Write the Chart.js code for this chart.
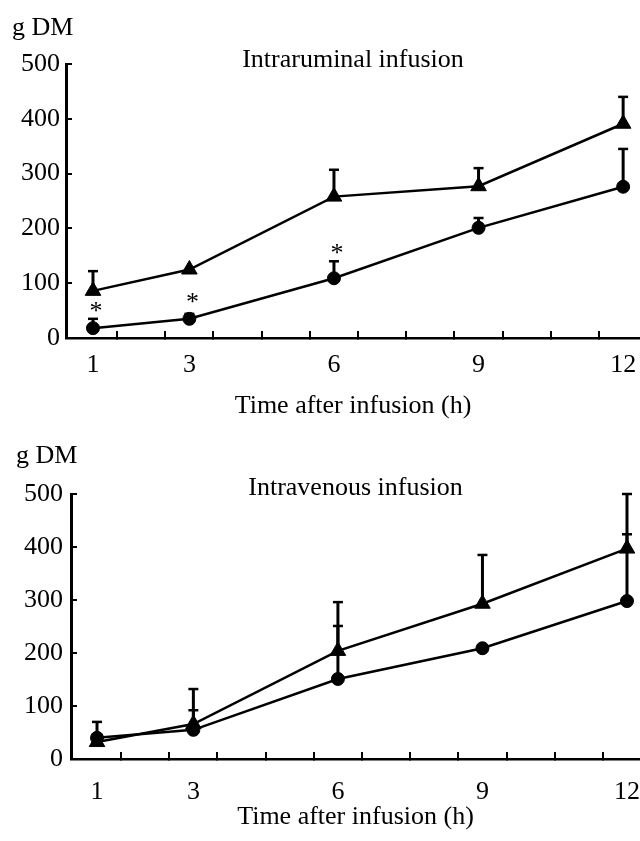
<!DOCTYPE html>
<html>
<head>
<meta charset="utf-8">
<script src="https://cdn.jsdelivr.net/npm/chart.js@4.4.1/dist/chart.umd.min.js"></script>
<style>
html,body{margin:0;padding:0;background:#fff;}
canvas{display:block;}
</style>
</head>
<body>
<canvas id="c1" width="640" height="430"></canvas>
<canvas id="c2" width="640" height="411"></canvas>
<script>
// ---- data ----
const hours = [1, 3, 6, 9, 12];
const xTickLabels = ['1', '3', '6', '9', '12'];
const minorTicks = [1.5, 2.5, 3.5, 4.5, 5.5, 6.5, 7.5, 8.5, 9.5, 10.5, 11.5];
const yTicks = [0, 100, 200, 300, 400, 500];

// Intraruminal infusion (value, upper end of error bar)
const ruminalTriangle = [86, 125, 258, 277, 391];
const ruminalTriangleUpper = [122, null, 307, 310, 440];
const ruminalCircle = [18, 35, 109, 201, 276];
const ruminalCircleUpper = [35, 44, 140, 219, 345];
const ruminalStarX = [1, 3, 6];
const ruminalStarY = [52, 69, 159];

// Intravenous infusion
const venousTriangle = [32, 66, 204, 293, 397];
const venousTriangleUpper = [70, 132, 296, 385, 500];
const venousCircle = [40, 55, 151, 209, 298];
const venousCircleUpper = [null, 92, 251, null, 424];

// ---- setup ----
const FONT = "'Liberation Serif', 'Times New Roman', serif";
Chart.defaults.font.family = FONT;
Chart.defaults.font.size = 26;
Chart.defaults.color = '#000';

const errorBarPlugin = {
  id: 'errorBars',
  afterDatasetsDraw(chart) {
    const {ctx, scales: {x, y}} = chart;
    ctx.save();
    ctx.strokeStyle = '#000';
    chart.data.datasets.forEach(ds => {
      if (!ds.upper) return;
      ds.data.forEach((pt, i) => {
        const up = ds.upper[i];
        if (up == null) return;
        const px = x.getPixelForValue(pt.x);
        const py = y.getPixelForValue(pt.y);
        const pu = y.getPixelForValue(up);
        ctx.lineWidth = 3;
        ctx.beginPath(); ctx.moveTo(px, py); ctx.lineTo(px, pu); ctx.stroke();
        ctx.lineWidth = 2.5;
        ctx.beginPath(); ctx.moveTo(px - 5, pu); ctx.lineTo(px + 5, pu); ctx.stroke();
      });
    });
    ctx.restore();
  }
};

function makeAsteriskPlugin(xs, ys) {
  return {
    id: 'asterisks',
    afterDatasetsDraw(chart) {
      const {ctx, scales: {x, y}} = chart;
      ctx.save();
      ctx.fillStyle = '#000';
      ctx.font = "26px " + FONT;
      ctx.textAlign = 'center';
      ctx.textBaseline = 'middle';
      xs.forEach((xv, i) => {
        ctx.fillText('*', x.getPixelForValue(xv) + 3, y.getPixelForValue(ys[i]) + 3);
      });
      ctx.restore();
    }
  };
}

function toPoints(vals) {
  return vals.map((v, i) => ({x: hours[i], y: v}));
}

function datasets(tri, triUp, circ, circUp) {
  return [
    {
      data: toPoints(tri), upper: triUp,
      borderColor: '#000', borderWidth: 2.5, fill: false, tension: 0,
      pointStyle: 'triangle', pointRadius: 9, pointBackgroundColor: '#000',
      pointBorderColor: '#000', pointBorderWidth: 1
    },
    {
      data: toPoints(circ), upper: circUp,
      borderColor: '#000', borderWidth: 2.5, fill: false, tension: 0,
      pointStyle: 'circle', pointRadius: 6.5, pointBackgroundColor: '#000',
      pointBorderColor: '#000', pointBorderWidth: 1
    }
  ];
}

function xScale(min, max, height, labelPad, titlePad) {
  return {
    type: 'linear', min, max,
    afterBuildTicks: s => {
      s.ticks = hours.concat(minorTicks).sort((a, b) => a - b).map(v => ({value: v}));
    },
    afterFit: s => { s.height = height; s.paddingLeft = 0; s.paddingRight = 0; },
    ticks: {
      autoSkip: false, maxRotation: 0, minRotation: 0, padding: labelPad,
      color: '#000', font: {size: 26},
      callback: v => hours.includes(v) ? xTickLabels[hours.indexOf(v)] : ''
    },
    grid: {
      drawOnChartArea: false, drawTicks: true, tickLength: -7, lineWidth: 2,
      color: c => (c.tick && hours.includes(c.tick.value)) ? 'rgba(0,0,0,0)' : '#000'
    },
    border: {display: true, color: '#000', width: 2.5},
    title: {
      display: true, text: 'Time after infusion (h)', color: '#000',
      font: {size: 26}, padding: {top: 0, bottom: titlePad}
    }
  };
}

function yScale(width, labelPad) {
  return {
    type: 'linear', min: 0, max: 500,
    afterBuildTicks: s => { s.ticks = yTicks.map(v => ({value: v})); },
    afterFit: s => { s.width = width; s.paddingTop = 0; s.paddingBottom = 0; },
    ticks: {padding: labelPad, color: '#000', font: {size: 26}},
    grid: {drawOnChartArea: false, drawTicks: true, tickLength: -6, lineWidth: 2, color: '#000'},
    border: {display: true, color: '#000', width: 3}
  };
}

function makeChart(id, cfg) {
  return new Chart(document.getElementById(id), {
    type: 'line',
    data: {datasets: cfg.datasets},
    plugins: cfg.plugins,
    options: {
      responsive: false, animation: false, devicePixelRatio: 1,
      layout: {autoPadding: false, padding: {left: cfg.padLeft, right: 0, top: 0, bottom: 0}},
      plugins: {
        legend: {display: false},
        tooltip: {enabled: false},
        title: {
          display: true, text: 'g DM', align: 'start', color: '#000',
          font: {size: 26, weight: 'normal'}, padding: {top: cfg.t1Top, bottom: 0}
        },
        subtitle: {
          display: true, text: cfg.subtitle, align: 'center', fullSize: false, color: '#000',
          font: {size: 26, weight: 'normal'}, padding: {top: cfg.t2Top, bottom: cfg.t2Bottom}
        }
      },
      scales: {
        x: xScale(cfg.xMin, cfg.xMax, cfg.xHeight, cfg.xLabelPad, cfg.xTitlePad),
        y: yScale(cfg.yWidth, cfg.yLabelPad)
      }
    }
  });
}

makeChart('c1', {
  datasets: datasets(ruminalTriangle, ruminalTriangleUpper, ruminalCircle, ruminalCircleUpper),
  plugins: [errorBarPlugin, makeAsteriskPlugin(ruminalStarX, ruminalStarY)],
  subtitle: 'Intraruminal infusion',
  padLeft: 12, t1Top: 12.4, t2Top: 1.3, t2Bottom: -12.1,
  xMin: 0.44, xMax: 12.35, xHeight: 92, xLabelPad: 18.4, xTitlePad: 8.4,
  yWidth: 54, yLabelPad: 12
});

makeChart('c2', {
  datasets: datasets(venousTriangle, venousTriangleUpper, venousCircle, venousCircleUpper),
  plugins: [errorBarPlugin],
  subtitle: 'Intravenous infusion',
  padLeft: 16, t1Top: 10.4, t2Top: 0.8, t2Bottom: -9.6,
  xMin: 0.46, xMax: 12.27, xHeight: 82, xLabelPad: 24.9, xTitlePad: 7.9,
  yWidth: 55, yLabelPad: 14
});
</script>
</body>
</html>
